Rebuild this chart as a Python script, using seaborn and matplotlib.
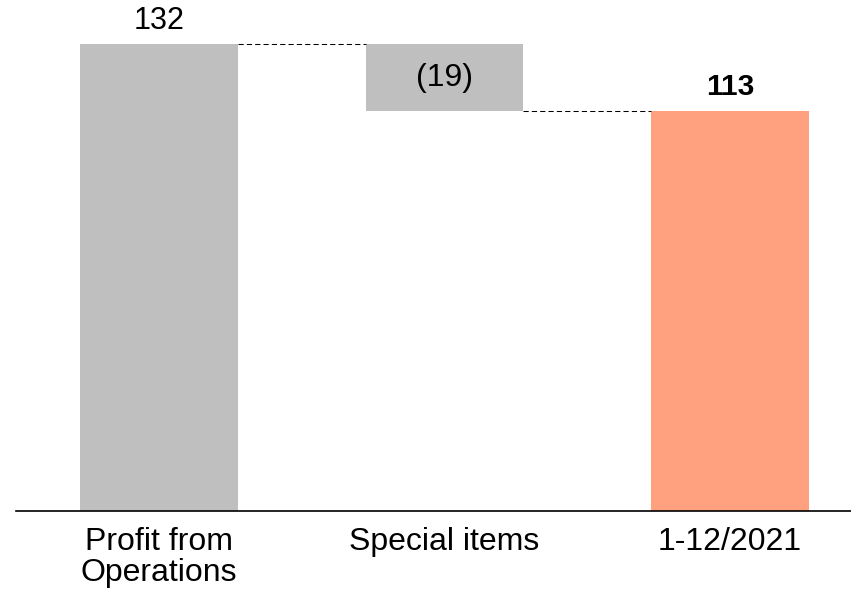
import matplotlib
matplotlib.use("Agg")
import matplotlib.pyplot as plt
import seaborn as sns
import pandas as pd

# Waterfall data
categories = ["Profit from\nOperations", "Special items", "1-12/2021"]
values = [132, -19, 113]
kinds = ["start", "delta", "total"]
value_labels = ["132", "(19)", "113"]
bar_colors = ["#BFBFBF", "#BFBFBF", "#FFA07F"]

sns.set_theme(style="white")
plt.rcParams["font.family"] = ["Liberation Sans", "DejaVu Sans"]

# Build floating bar geometry from the running total
heights, bottoms, levels = [], [], []
running = 0
for v, k in zip(values, kinds):
    if k == "start":
        bottoms.append(0)
        heights.append(v)
        running = v
    elif k == "delta":
        bottoms.append(running)
        heights.append(v)
        running += v
    else:
        bottoms.append(0)
        heights.append(v)
        running = v
    levels.append(running)

df = pd.DataFrame({"category": categories, "height": heights})

fig = plt.figure(figsize=(8.51, 5.89), dpi=100)
ax = fig.add_axes([16 / 851, 78 / 589, 835 / 851, 511 / 589])

bar_w = 0.553
sns.barplot(data=df, x="category", y="height", bottom=bottoms, width=bar_w,
            color=bar_colors[0], saturation=1, errorbar=None, ax=ax)
for patch, c in zip(ax.patches, bar_colors):
    patch.set_facecolor(c)
    patch.set_edgecolor("none")
    patch.set_linewidth(0)

# Dashed connectors between consecutive bars
for i in range(len(categories) - 1):
    ax.plot([i + bar_w / 2, i + 1 - bar_w / 2], [levels[i], levels[i]],
            color="black", lw=0.75, linestyle=(0, (5, 3)), zorder=3)

# Value labels
for i, (k, lab) in enumerate(zip(kinds, value_labels)):
    top = bottoms[i] + heights[i] if heights[i] > 0 else bottoms[i]
    if k == "delta":
        mid = bottoms[i] + heights[i] / 2
        ax.text(i, mid, lab, ha="center", va="center", fontsize=23, color="black")
    elif k == "total":
        ax.annotate(lab, xy=(i, top), xytext=(0, 11.5), textcoords="offset points",
                    ha="center", va="baseline", fontsize=21.5, fontweight="bold",
                    color="black")
    else:
        ax.annotate(lab, xy=(i, top), xytext=(0, 10.5), textcoords="offset points",
                    ha="center", va="baseline", fontsize=22, color="black")

ax.set_xlim(-0.501, 2.424)
ax.set_ylim(0, 144.43)
ax.set_xlabel("")
ax.set_ylabel("")
ax.set_yticks([])
ax.tick_params(axis="x", length=0, pad=11.5, labelsize=23, labelcolor="black")
for t in ax.get_xticklabels():
    t.set_linespacing(1.05)
for s in ["top", "left", "right"]:
    ax.spines[s].set_visible(False)
ax.spines["bottom"].set_color("black")
ax.spines["bottom"].set_linewidth(1.2)
ax.patch.set_alpha(0)

fig.savefig("out.png", dpi=100)
